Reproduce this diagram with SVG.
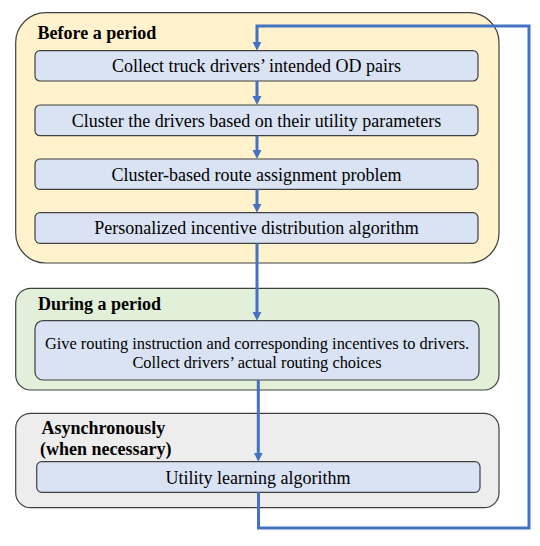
<svg xmlns="http://www.w3.org/2000/svg" width="540" height="546" viewBox="0 0 540 546">
<style>
.grp{stroke:#404040;stroke-width:1.2}
.box{fill:#DAE3F3;stroke:#404040;stroke-width:1.2}
.t{font-family:"Liberation Serif","Times New Roman",serif;font-size:18px;fill:#000;text-anchor:middle}
.t2{font-family:"Liberation Serif","Times New Roman",serif;font-size:16.4px;fill:#000;text-anchor:middle}
.h{font-family:"Liberation Serif","Times New Roman",serif;font-size:18px;font-weight:bold;fill:#000}
.c{fill:none;stroke:#4472C4;stroke-width:3}
</style>
<defs>
<marker id="ah" markerUnits="userSpaceOnUse" markerWidth="10" markerHeight="10" refX="4" refY="4.5" orient="auto">
<path d="M0,0 L9,4.5 L0,9 z" fill="#4472C4"/>
</marker>
</defs>
<g id="before">
<rect class="grp" x="15.7" y="12.7" width="483.3" height="250.3" rx="30" fill="#FFF2CC"/>
<text class="h" x="37.5" y="38.5">Before a period</text>
</g>
<g id="during">
<rect class="grp" x="15.7" y="288.3" width="483.3" height="101.7" rx="15" fill="#E2F0D9"/>
<text class="h" x="38" y="309.5">During a period</text>
</g>
<g id="async">
<rect class="grp" x="15.7" y="413.3" width="483.3" height="94.4" rx="15" fill="#EDEDED"/>
<text class="h" x="41.5" y="434">Asynchronously</text>
<text class="h" x="40" y="455">(when necessary)</text>
</g>
<g id="n1">
<rect class="box" x="35" y="50.7" width="443" height="30.3" rx="5"/>
<text class="t" x="256.5" y="72.3">Collect truck drivers’ intended OD pairs</text>
</g>
<g id="n2">
<rect class="box" x="35" y="105" width="443" height="30.7" rx="5"/>
<text class="t" x="256.5" y="126.8">Cluster the drivers based on their utility parameters</text>
</g>
<g id="n3">
<rect class="box" x="35" y="159" width="443" height="30.3" rx="5"/>
<text class="t" x="256.5" y="180.6">Cluster-based route assignment problem</text>
</g>
<g id="n4">
<rect class="box" x="35" y="212.7" width="443" height="30.6" rx="5"/>
<text class="t" x="256.5" y="234.4">Personalized incentive distribution algorithm</text>
</g>
<g id="n5">
<rect class="box" x="35" y="320.7" width="444" height="59.3" rx="8"/>
<text class="t2" x="257" y="348.5">Give routing instruction and corresponding incentives to drivers.</text>
<text class="t2" x="257" y="368.3">Collect drivers’ actual routing choices</text>
</g>
<g id="n6">
<rect class="box" x="36.7" y="461.7" width="443.3" height="30.6" rx="5"/>
<text class="t" x="258" y="483.5">Utility learning algorithm</text>
</g>
<g id="connectors">
<path class="c" d="M258.5,492.3 V528 H529 V26 H257 V45.7" marker-end="url(#ah)"/>
<path class="c" d="M257,81 V100" marker-end="url(#ah)"/>
<path class="c" d="M257,135.7 V154" marker-end="url(#ah)"/>
<path class="c" d="M257,189.3 V207.7" marker-end="url(#ah)"/>
<path class="c" d="M257,243.3 V315.7" marker-end="url(#ah)"/>
<path class="c" d="M258.3,380 V456.7" marker-end="url(#ah)"/>
</g>
</svg>
